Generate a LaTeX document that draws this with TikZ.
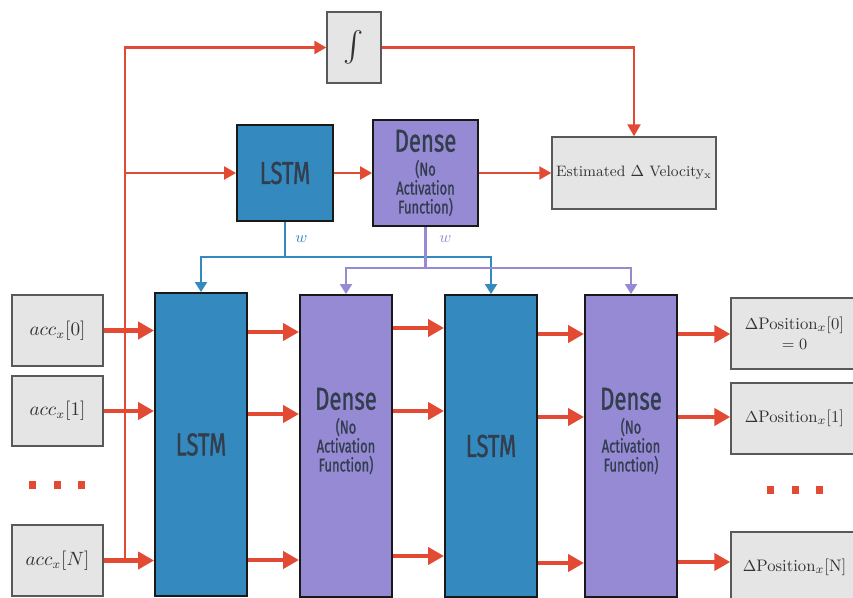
\documentclass[tikz,border=0pt]{standalone}
\usepackage{amsmath}
\usepackage{fontspec}
\usetikzlibrary{arrows.meta,positioning}
\newfontfamily\blockfont[FakeStretch=0.7,FakeBold=1]{Fira Sans}
\definecolor{arrowred}{RGB}{226,74,51}
\definecolor{lstmblue}{RGB}{52,137,190}
\definecolor{densepurple}{RGB}{150,138,213}
\definecolor{boxgrey}{RGB}{229,229,229}
\definecolor{inktext}{RGB}{50,62,78}

\begin{document}
\begin{tikzpicture}[x=0.02cm,y=-0.02cm,
    block/.style={draw=black!90,line width=1.1pt,inner sep=0pt,text=inktext,align=center,
        font=\blockfont\fontsize{18}{10.8}\selectfont},
    lstmbox/.style={block,fill=lstmblue},
    densebox/.style={block,fill=densepurple},
    greybox/.style={draw=black!65,line width=0.8pt,fill=boxgrey,inner sep=0pt,text=black!80,align=center,
        font=\fontsize{9.5}{11.3}\selectfont},
    fat/.style={arrowred,line width=2.8pt,-{Triangle[length=0.32cm,width=0.34cm]}},
    feed/.style={arrowred,line width=1.4pt,-{Triangle[length=0.24cm,width=0.26cm]}},
    wblue/.style={lstmblue,line width=1.2pt},
    wpurple/.style={densepurple,line width=1.2pt},
    wtip/.style={-{Triangle[length=0.2cm,width=0.24cm]}},
    wlabel/.style={font=\fontsize{9.5}{11}\selectfont}]
    \useasboundingbox (0,0) rectangle (853,598);
    \newcommand{\sm}{\fontsize{10.5}{10.8}\selectfont}
    \newcommand{\densewords}{Dense\\[2.8pt]\sm(No\\\sm Activation\\\sm Function)}

    \node[greybox,minimum width=1.08cm,minimum height=1.42cm,font=\fontsize{16}{16}\selectfont] (integ) at (354,47.5) {$\int$};
    \node[lstmbox,minimum width=1.92cm,minimum height=1.92cm] (lstm) at (285,173) {LSTM};
    \node[densebox,minimum width=2.1cm,minimum height=2.12cm] (dense) at (425.5,173) {\densewords};
    \node[greybox,minimum width=3.28cm,minimum height=1.44cm,font=\fontsize{8.6}{11}\selectfont] (est) at (634,173) {Estimated $\Delta$ Velocity$_{\mathrm{x}}$};

    \node[lstmbox,minimum width=1.84cm,minimum height=6.06cm] (L1) at (201,444.5) {LSTM};
    \node[densebox,minimum width=1.84cm,minimum height=6.04cm,
        label={[block,draw=none,yshift=0.3cm]center:\densewords}] (D1) at (346,446) {};
    \node[lstmbox,minimum width=1.84cm,minimum height=6.04cm] (L2) at (491,446) {LSTM};
    \node[densebox,minimum width=1.84cm,minimum height=6.04cm,
        label={[block,draw=none,yshift=0.3cm]center:\densewords}] (D2) at (631,446) {};

    \node[greybox,minimum width=1.82cm,minimum height=1.42cm,font=\fontsize{10.5}{12}\selectfont] (in0) at (57.5,330.5) {$acc_x[0]$};
    \node[greybox,minimum width=1.82cm,minimum height=1.4cm,font=\fontsize{10.5}{12}\selectfont] (in1) at (57.5,411) {$acc_x[1]$};
    \node[greybox,minimum width=1.82cm,minimum height=1.42cm,font=\fontsize{10.5}{12}\selectfont] (inN) at (57.5,560.5) {$acc_x[N]$};

    \node[greybox,minimum width=2.54cm,minimum height=1.42cm] (out0) at (794.5,333.5) {$\Delta$Position$_x$[0]\\$=0$};
    \node[greybox,minimum width=2.54cm,minimum height=1.42cm] (out1) at (794.5,418.5) {$\Delta$Position$_x$[1]};
    \node[greybox,minimum width=2.54cm,minimum height=1.42cm] (outN) at (794.5,567.5) {$\Delta$Position$_x$[N]};

    \coordinate (tap) at (125,560.5);
    \draw[feed] (tap) |- (integ.west);
    \draw[feed] (tap |- lstm.west) -- (lstm.west);
    \draw[feed] (integ.east) -| (est.north);
    \draw[feed] (lstm.east) -- (dense.west);
    \draw[feed] (dense.east) -- (est.west);

    \draw[wblue] (lstm.south) -- node[right=2pt,text=lstmblue,wlabel] {$w$} (lstm.south |- 0,257) coordinate (wl);
    \draw[wblue,wtip] (wl) -| (L1.north);
    \draw[wblue,wtip] (wl) -| (L2.north);
    \draw[wpurple] (dense.south) -- node[pos=0.3,right=4pt,text=densepurple,wlabel] {$w$} (dense.south |- 0,268) coordinate (wd);
    \draw[wpurple,wtip] (wd) -| (D1.north);
    \draw[wpurple,wtip] (wd) -| (D2.north);

    \begin{scope}[fat]
    \foreach \src in {in0,in1,inN} \draw (\src.east) -- (\src.east -| L1.west);
    \foreach \y in {332,414,560} \draw (L1.east |- 0,\y) -- (D1.west |- 0,\y);
    \foreach \y in {328,411,556} \draw (D1.east |- 0,\y) -- (L2.west |- 0,\y);
    \foreach \y in {334,417,563} \draw (L2.east |- 0,\y) -- (D2.west |- 0,\y);
    \foreach \dst/\y in {out0/334,out1/417,outN/562} \draw (D2.east |- 0,\y) -- (\dst.west |- 0,\y);
    \end{scope}

    \foreach \x in {32,57,81} \fill[arrowred] (\x,485) +(-3.5,-4) rectangle +(3.5,4);
    \foreach \x in {770,795,819} \fill[arrowred] (\x,490) +(-3.5,-4) rectangle +(3.5,4);
\end{tikzpicture}
\end{document}
